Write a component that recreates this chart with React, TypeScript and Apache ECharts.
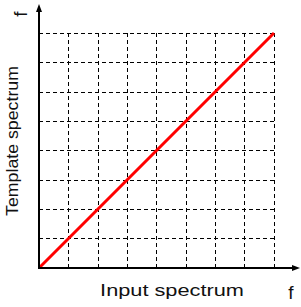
import React, { useEffect, useRef } from "react";
import * as echarts from "echarts";

const xRange = [0, 8];
const yRange = [0, 8];
const gridStep = 1;
const lineX = [0, 8];
const lineY = [0, 8];
const xTitle = "Input spectrum";
const yTitle = "Template spectrum";
const axisSymbol = "f";

export default function App() {
  const ref = useRef<HTMLDivElement>(null);
  useEffect(() => {
    const chart = echarts.init(ref.current!, null, { renderer: "svg" });
    const font = '"Liberation Sans", Arial, sans-serif';
    const splitLine = {
      show: true,
      lineStyle: { color: "#000", width: 1, type: [4, 3] as any },
    };
    chart.setOption({
      animation: false,
      grid: { left: 39, top: 33, width: 235, height: 235 },
      xAxis: {
        type: "value",
        min: xRange[0],
        max: xRange[1],
        interval: gridStep,
        axisLine: { show: false },
        axisTick: { show: false },
        axisLabel: { show: false },
        splitLine,
      },
      yAxis: {
        type: "value",
        min: yRange[0],
        max: yRange[1],
        interval: gridStep,
        axisLine: { show: false },
        axisTick: { show: false },
        axisLabel: { show: false },
        splitLine,
      },
      series: [
        {
          type: "line",
          data: lineX.map((x, i) => [x, lineY[i]]),
          symbol: "none",
          lineStyle: { color: "#ff0000", width: 3 },
          z: 5,
        },
      ],
      graphic: [
        {
          type: "line",
          shape: { x1: 39, y1: 268, x2: 39, y2: 9 },
          style: { stroke: "#000", lineWidth: 2 },
          z: 10,
        },
        {
          type: "polygon",
          shape: { points: [[39, 4], [36, 12], [42, 12]] },
          style: { fill: "#000" },
          z: 10,
        },
        {
          type: "line",
          shape: { x1: 38, y1: 268, x2: 295, y2: 268 },
          style: { stroke: "#000", lineWidth: 2 },
          z: 10,
        },
        {
          type: "polygon",
          shape: { points: [[300, 268], [292, 265], [292, 271]] },
          style: { fill: "#000" },
          z: 10,
        },
        {
          type: "text",
          x: 172,
          y: 291,
          scaleX: 1.36,
          style: {
            text: xTitle,
            fontSize: 16,
            fontFamily: font,
            fill: "#111",
            align: "center",
            verticalAlign: "middle",
          },
        },
        {
          type: "text",
          x: 13,
          y: 141,
          rotation: Math.PI / 2,
          scaleX: 1.11,
          style: {
            text: yTitle,
            fontSize: 16,
            fontFamily: font,
            fill: "#111",
            align: "center",
            verticalAlign: "middle",
          },
        },
        {
          type: "text",
          x: 20,
          y: 14,
          rotation: Math.PI / 2,
          style: {
            text: axisSymbol,
            fontSize: 19,
            fontFamily: font,
            fill: "#111",
            align: "center",
            verticalAlign: "middle",
          },
        },
        {
          type: "text",
          x: 291,
          y: 292,
          style: {
            text: axisSymbol,
            fontSize: 19,
            fontFamily: font,
            fill: "#111",
            align: "center",
            verticalAlign: "middle",
          },
        },
      ],
    });
    return () => chart.dispose();
  }, []);
  return (
    <div
      ref={ref}
      style={{ position: "fixed", left: 0, top: 0, width: 301, height: 307, background: "#fff" }}
    />
  );
}
